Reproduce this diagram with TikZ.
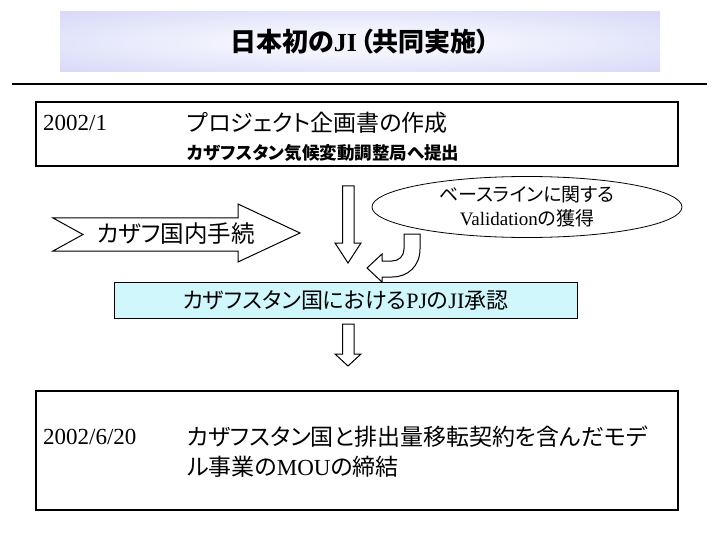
\documentclass[tikz,border=0pt]{standalone}
\usepackage{fontspec}
\setmainfont{Liberation Serif}
\newfontfamily\jp[RawFeature=+palt]{Noto Sans CJK JP}
\usetikzlibrary{positioning,shapes.geometric}

\definecolor{titleedge}{RGB}{200,202,245}
\definecolor{titlecore}{RGB}{243,244,253}
\definecolor{approvalfill}{RGB}{208,248,252}
\pgfdeclareradialshading{titleglow}{\pgfpoint{0bp}{0bp}}{color(0bp)=(titlecore); color(10bp)=(titlecore); color(50bp)=(titleedge); color(100bp)=(titleedge)}

\begin{document}
\begin{tikzpicture}[x=1pt,y=-1pt,
titlebox/.style={shade,shading=titleglow,minimum width=600pt,minimum height=60pt,inner sep=0pt,font=\fontsize{26}{30}\selectfont\bfseries},
stagebox/.style={draw,line width=1.2pt,minimum width=642pt,inner sep=0pt},
approval/.style={draw,fill=approvalfill,line width=1pt,minimum width=463pt,minimum height=36pt,inner sep=0pt,font=\fontsize{22}{26}\selectfont},
datelabel/.style={anchor=west,inner sep=0pt,font=\fontsize{23}{27}\selectfont},
jptext/.style={anchor=west,inner sep=0pt,align=left,font=\fontsize{23}{30}\selectfont},
blockarrow/.style={draw,fill=white,line width=1pt,line join=miter}]
\useasboundingbox (0,0) rectangle (720,540);
% heading
\node[titlebox](title) at (360,42){{\jp 日本初の}JI\kern3pt{\jp （共同実施）}};
\draw[line width=2.5pt] (12,84) -- (707,84);
% 2002/1
\node[stagebox,minimum height=64pt](plan) at (357,134){};
\node[datelabel](plandate) at (43,123){2002/1};
\node[jptext](plantitle) at (187,123){\jp プロジェクト企画書の作成};
\node[jptext,font=\fontsize{17.5}{20}\selectfont\bfseries](plansubmit) at (187,153){\jp カザフスタン気候変動調整局へ提出};
% steps before approval
\draw[blockarrow] (53,218) -- (238,218) -- (238,204) -- (300,233) -- (238,262) -- (238,251) -- (53,251) -- (83,234.5) -- cycle;
\node[jptext,anchor=center,font=\fontsize{23.5}{28}\selectfont](domestic) at (176,234){\jp カザフ国内手続};
\draw[blockarrow] (342.5,186) -- (354,186) -- (354,243) -- (361,243) -- (348,263) -- (335,243) -- (342.5,243) -- cycle;
\node[draw,ellipse,line width=0.8pt,minimum width=310pt,minimum height=61pt,inner sep=0pt](baseline) at (527,207){};
\node[align=center,inner sep=0pt,font=\fontsize{19}{24}\selectfont](baselinetext) at (baseline){{\jp ベースラインに関する}\\Validation{\jp の獲得}};
\draw[blockarrow] (404,234) -- (420,234) -- (420,249) .. controls (420,266) and (408,277) .. (392,277) -- (382,277) -- (382,282) -- (367,268) -- (382,254) -- (382,261) -- (392,261) .. controls (399,261) and (404,256) .. (404,249) -- cycle;
% approval
\node[approval](approval) at (345.5,300){{\jp カザフスタン国における}PJ{\jp の}JI{\jp 承認}};
\draw[blockarrow] (342.5,324) -- (354,324) -- (354,354) -- (361,354) -- (348,366) -- (335,354) -- (342.5,354) -- cycle;
% 2002/6/20
\node[stagebox,minimum height=119pt](mou) at (357,450.5){};
\node[datelabel](moudate) at (43,437){2002/6/20};
\node[jptext](moutext) at (187,452){{\jp カザフスタン国と排出量移転契約を含んだモデ}\\{\jp ル事業の}MOU{\jp の締結}};
\end{tikzpicture}
\end{document}
